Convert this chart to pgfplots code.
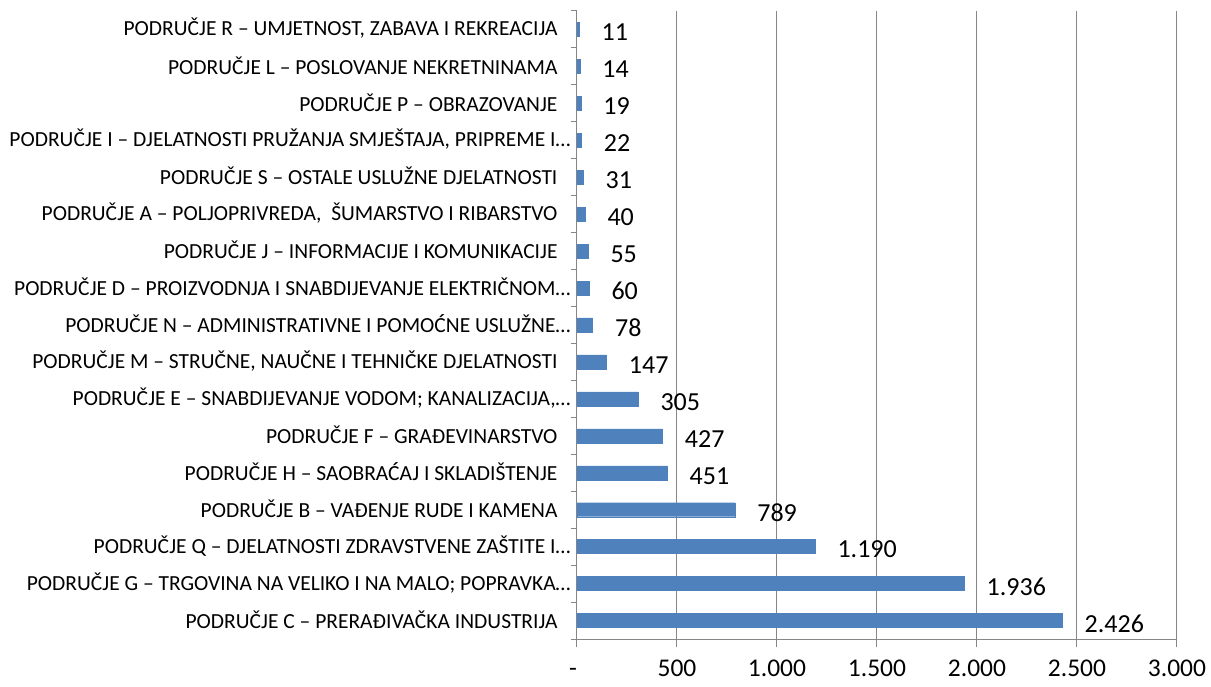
\documentclass[border=0pt]{standalone}
\usepackage{pgfplots}
\pgfplotsset{compat=1.18}
\usepackage{fontspec}
\setmainfont{Carlito}
\definecolor{barblue}{HTML}{4F81BD}
\definecolor{gridgray}{HTML}{868686}
\begin{document}
\begin{tikzpicture}
\begin{axis}[
  scale only axis,
  width=600pt, height=628pt,
  xbar, bar width=14pt,
  xmin=0, xmax=3000,
  ymin=-0.5, ymax=16.5,
  axis x line*=bottom,
  axis y line*=left,
  axis line style={gridgray, line width=1pt},
  xtick={0,500,1000,1500,2000,2500,3000},
  xticklabels={{\vphantom{0}-\kern8pt},500,1.000,1.500,2.000,2.500,3.000},
  xmajorgrids,
  grid style={gridgray, line width=1pt},
  x tick style={gridgray, line width=1pt},
  major x tick style={draw=gridgray},
  xtick align=outside,
  major tick length=8pt,
  x tick label style={font=\fontsize{25.5}{30}\selectfont, yshift=-12pt, inner sep=1pt},
  ytick={0,...,16},
  y tick style={draw=none},
  minor ytick={-0.5,0.5,...,16.5},
  minor y tick style={draw=gridgray, line width=1pt},
  minor tick length=6pt,
  ytick align=outside,
  y tick label style={font=\fontsize{21.5}{25}\selectfont, anchor=east, xshift=5pt, yshift=1pt},
  yticklabels={
    {PODRUČJE C – PRERAĐIVAČKA INDUSTRIJA\kern13pt},
    {PODRUČJE G – TRGOVINA NA VELIKO I NA MALO; POPRAVKA…},
    {PODRUČJE Q – DJELATNOSTI ZDRAVSTVENE ZAŠTITE I…},
    {PODRUČJE B – VAĐENJE RUDE I KAMENA\kern13pt},
    {PODRUČJE H – SAOBRAĆAJ I SKLADIŠTENJE\kern13pt},
    {PODRUČJE F – GRAĐEVINARSTVO\kern13pt},
    {PODRUČJE E – SNABDIJEVANJE VODOM; KANALIZACIJA,…},
    {PODRUČJE M – STRUČNE, NAUČNE I TEHNIČKE DJELATNOSTI\kern13pt},
    {PODRUČJE N – ADMINISTRATIVNE I POMOĆNE USLUŽNE…},
    {PODRUČJE D – PROIZVODNJA I SNABDIJEVANJE ELEKTRIČNOM…},
    {PODRUČJE J – INFORMACIJE I KOMUNIKACIJE\kern13pt},
    {PODRUČJE A – POLJOPRIVREDA,\ \ ŠUMARSTVO I RIBARSTVO\kern13pt},
    {PODRUČJE S – OSTALE USLUŽNE DJELATNOSTI\kern13pt},
    {PODRUČJE I – DJELATNOSTI PRUŽANJA SMJEŠTAJA, PRIPREME I…},
    {PODRUČJE P – OBRAZOVANJE\kern13pt},
    {PODRUČJE L – POSLOVANJE NEKRETNINAMA\kern13pt},
    {PODRUČJE R – UMJETNOST, ZABAVA I REKREACIJA\kern13pt}
  },
  nodes near coords,
  point meta=explicit symbolic,
  every node near coord/.append style={font=\fontsize{26}{30}\selectfont, black, anchor=west, xshift=19pt, yshift=-3pt},
  clip=false,
]
\addplot[fill=barblue, draw=barblue] coordinates {
  (2426,0) [2.426]
  (1936,1) [1.936]
  (1190,2) [1.190]
  (789,3) [789]
  (451,4) [451]
  (427,5) [427]
  (305,6) [305]
  (147,7) [147]
  (78,8) [78]
  (60,9) [60]
  (55,10) [55]
  (40,11) [40]
  (31,12) [31]
  (22,13) [22]
  (19,14) [19]
  (14,15) [14]
  (11,16) [11]
};
\end{axis}
\pgfresetboundingbox
\path (-577pt,-47pt) rectangle (634pt,639pt);
\end{tikzpicture}
\end{document}
